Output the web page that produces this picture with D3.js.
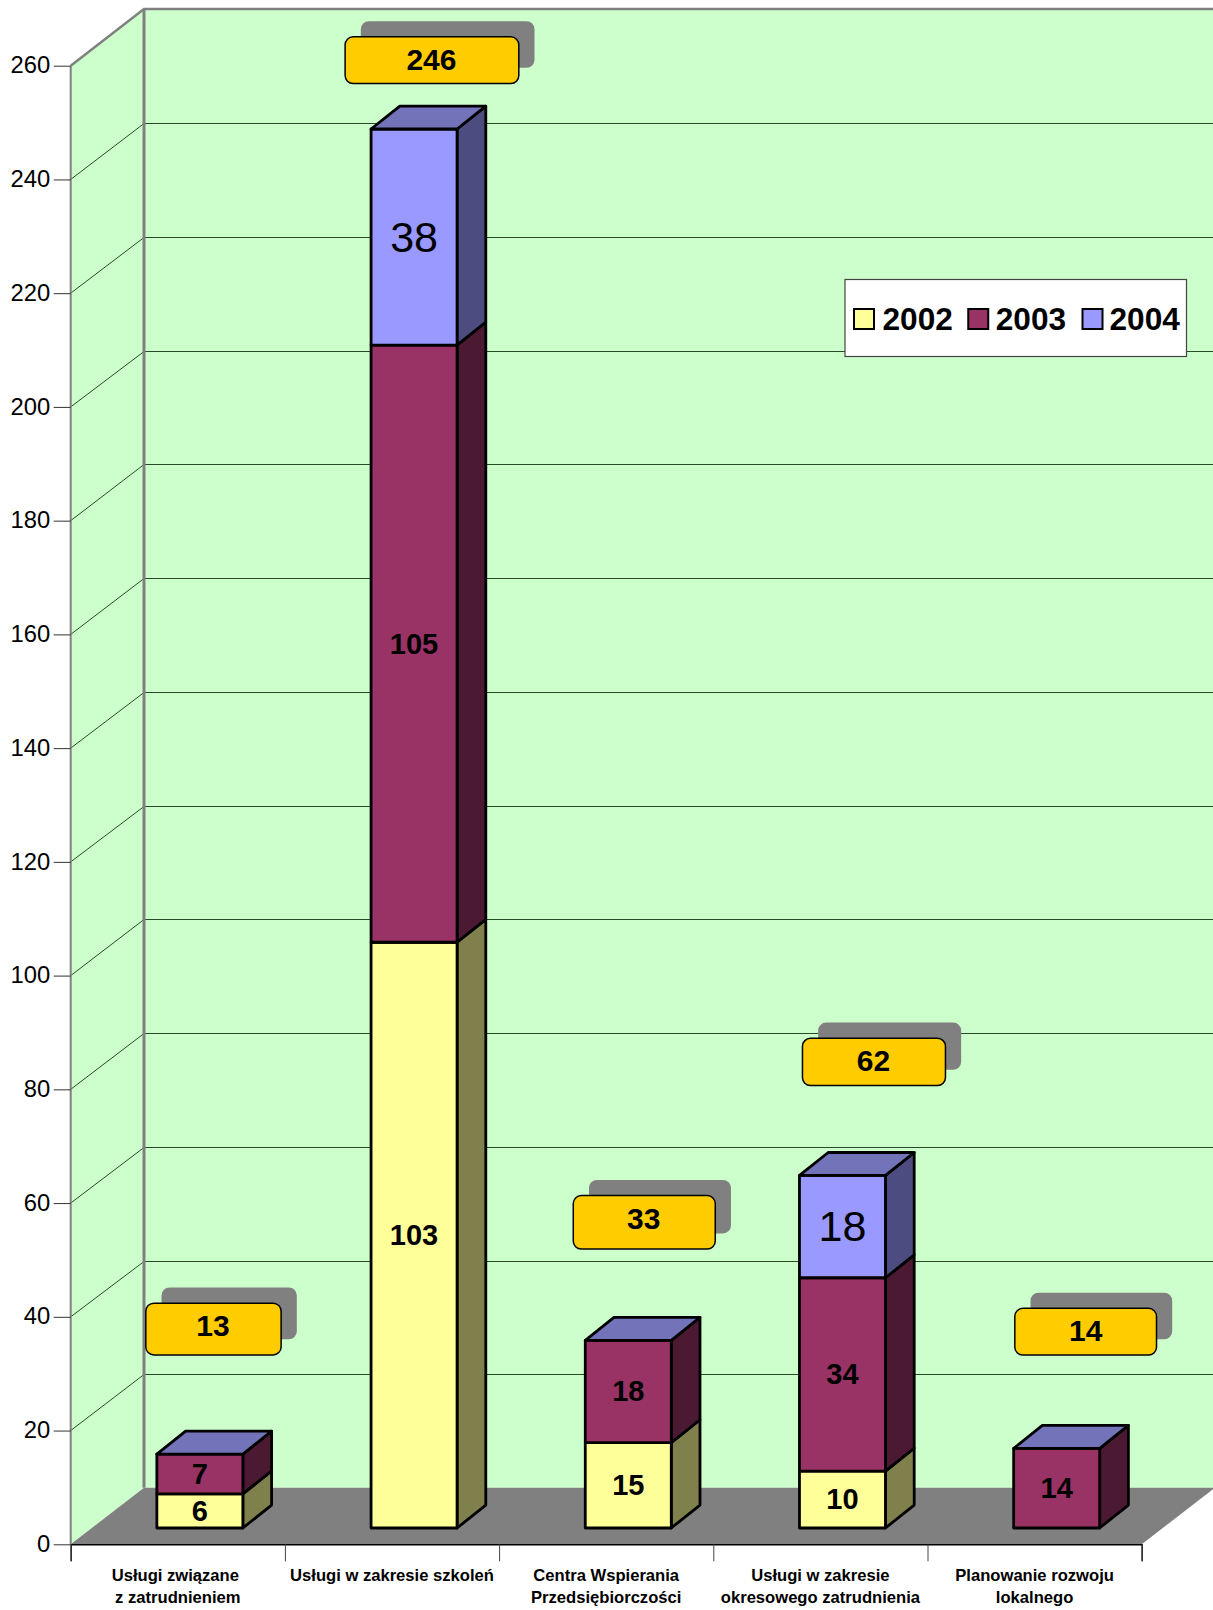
<!DOCTYPE html>
<html><head><meta charset="utf-8">
<script src="https://cdn.jsdelivr.net/npm/d3@7/dist/d3.min.js"></script>
<style>html,body{margin:0;padding:0;background:#fff}svg{display:block}text{font-family:"Liberation Sans",Arial,sans-serif;fill:#000}</style>
</head><body><svg id="c" width="1213" height="1610"></svg>
<script>
const categories = [["Usługi związane","z zatrudnieniem"],["Usługi w zakresie szkoleń"],["Centra Wspierania","Przedsiębiorczości"],["Usługi w zakresie","okresowego zatrudnienia"],["Planowanie rozwoju","lokalnego"]];
const years = ["2002","2003","2004"];
const v2002 = [6,103,15,10,0];
const v2003 = [7,105,18,34,14];
const v2004 = [0,38,0,18,0];
const totals = [13,246,33,62,14];
const yTicks = d3.range(0,261,20);

// layout
const X0=70.7,X1=1141.7,Y0=1544.3,Y260=65.7,DX=73.3,DY=56.6,RIGHT=1213;
const barFront=0.301, barBack=0.693;
const barWidth=86;
const calloutLayout=[{dx:13.6,dy:-125,w:135.3,h:51.7,t:-3.5,tx:-0.5},{dx:17.9,dy:-68.8,w:173.7,h:46.7,t:-1.5,tx:-0.5},{dx:16,dy:-118,w:142,h:53.5,t:-4.5,tx:-0.5},{dx:31.5,dy:-113.5,w:143,h:47.2,t:-2,tx:-0.5},{dx:29,dy:-116.7,w:141.7,h:46.7,t:-1,tx:0}];
const labelShift=[-2.5,0,0,0,0];
const legendTextGap=[28.5,27.5,27];
const C={wall:"#CCFFCC",floor:"#808080",grey:"#808080",call:"#FFCC00"};
const face=["#FFFF99","#993366","#9999FF"], side=["#80804C","#4C1933","#4C4C80"], topFace="#7373B9";

const svg=d3.select("#c");
const y=d3.scaleLinear().domain([0,260]).range([Y0,Y260]);
const x=d3.scaleBand().domain(d3.range(5)).range([X0,X1]);
const xEdge=d3.scaleLinear().domain([0,5]).range([X0,X1]);
const poly=p=>"M"+p.map(q=>q.join(",")).join("L")+"Z";

// walls and floor
svg.append("path").attr("d",poly([[X0,Y0],[X0+DX,Y0-DY],[X0+DX,Y260-DY],[X0,Y260]])).attr("fill",C.wall);
svg.append("rect").attr("x",X0+DX).attr("y",Y260-DY).attr("width",RIGHT-X0-DX).attr("height",Y0-Y260).attr("fill",C.wall);
svg.append("path").attr("d",poly([[X0,Y0],[X1,Y0],[X1+DX,Y0-DY],[X0+DX,Y0-DY]])).attr("fill",C.floor);

// gridlines
const grid=svg.append("g").attr("fill","none").attr("stroke-width",1);
yTicks.filter(v=>v>0&&v<260).forEach(v=>{
  const yy=Math.round(y(v)-DY+0.3)+0.5;
  grid.append("path").attr("d",`M${X0},${y(v)}L${X0+DX},${yy}L${RIGHT},${yy}`).attr("stroke","#2a4a2a");
});
// wall frame
svg.append("path").attr("d",`M${X0},${Y260}L${X0+DX},${Y260-DY}L${RIGHT},${Y260-DY}`).attr("fill","none").attr("stroke",C.grey).attr("stroke-width",2.5);
svg.append("line").attr("x1",X0+DX).attr("x2",X0+DX).attr("y1",Y260-DY).attr("y2",Y0-DY).attr("stroke",C.grey).attr("stroke-width",3);
svg.append("line").attr("x1",X0).attr("x2",X0).attr("y1",Y260).attr("y2",Y0).attr("stroke",C.grey).attr("stroke-width",2);

// axes
const ya=svg.append("g").attr("transform",`translate(${X0},0)`).call(d3.axisLeft(y).tickValues(yTicks).tickSize(17).tickPadding(3.5));
ya.select(".domain").remove();
ya.selectAll("line").attr("stroke","#333").attr("stroke-width",1);
ya.selectAll("text").style("font-size","23.8px").attr("font-family",null).attr("dy","0.3em");
const xa=svg.append("g").attr("transform",`translate(0,${Y0})`).call(d3.axisBottom(xEdge).ticks(5).tickSize(17).tickFormat(""));
xa.select(".domain").attr("stroke","#000").attr("stroke-width",1.5);
xa.selectAll("line").attr("stroke","#444").attr("stroke-width",1);

// category labels
categories.forEach((lines,i)=>{
  const cx=x(i)+x.bandwidth()/2;
  const t=svg.append("text").attr("text-anchor","middle").attr("font-weight","bold").style("font-size","16.6px");
  lines.forEach((l,j)=>t.append("tspan").attr("x",cx+(j===0?labelShift[i]:0)).attr("y",1581+j*21.7).text(l));
});

// stacked 3D bars
const rows=categories.map((c,i)=>({i,"2002":v2002[i],"2003":v2003[i],"2004":v2004[i]}));
const stacked=d3.stack().keys(years)(rows);
const bars=svg.append("g");
const bx=i=>x(i)+x.bandwidth()/2+barFront*DX-barWidth/2;
const by=v=>y(v)-0.288*DY;
const ddx=(barBack-barFront)*DX, ddy=(0.693-0.288)*DY;
rows.forEach((r,i)=>{
  const g=bars.append("g").attr("stroke","#000").attr("stroke-width",2.8).attr("stroke-linejoin","round");
  const L=bx(i),R=L+barWidth;
  let topV=0;
  stacked.forEach((s,k)=>{
    const [a,b]=s[i]; if(b<=a) return; topV=b;
    g.append("path").attr("d",poly([[R,by(a)],[R+ddx,by(a)-ddy],[R+ddx,by(b)-ddy],[R,by(b)]])).attr("fill",side[k]);
    g.append("rect").attr("x",L).attr("y",by(b)).attr("width",barWidth).attr("height",by(a)-by(b)).attr("fill",face[k]);
  });
  g.append("path").attr("d",poly([[L,by(topV)],[R,by(topV)],[R+ddx,by(topV)-ddy],[L+ddx,by(topV)-ddy]])).attr("fill",topFace);
  stacked.forEach((s,k)=>{
    const [a,b]=s[i]; if(b<=a) return;
    const big=k===2;
    svg.append("text").attr("x",L+barWidth/2).attr("y",(by(a)+by(b))/2-0.6).attr("dy","0.36em").attr("text-anchor","middle")
      .attr("font-weight",big?"normal":"bold").style("font-size",big?"43px":"29px").text(b-a);
  });
});

// callouts
totals.forEach((t,i)=>{
  const l=calloutLayout[i];
  const cx=x(i)+x.bandwidth()/2+barFront*DX+l.dx, cy=by(d3.sum(stacked,s=>s[i][1]-s[i][0]))+l.dy;
  svg.append("rect").attr("x",cx-l.w/2+15.7).attr("y",cy-l.h/2-15.7).attr("width",l.w).attr("height",l.h).attr("rx",8).attr("fill",C.grey);
  svg.append("rect").attr("x",cx-l.w/2).attr("y",cy-l.h/2).attr("width",l.w).attr("height",l.h).attr("rx",8).attr("fill",C.call).attr("stroke","#000").attr("stroke-width",1.5);
  svg.append("text").attr("x",cx+l.tx).attr("y",cy+l.t).attr("dy","0.36em").attr("text-anchor","middle").attr("font-weight","bold").style("font-size","30px").text(t);
});

// legend
const lg=svg.append("g");
lg.append("rect").attr("x",845).attr("y",279.5).attr("width",341.5).attr("height",77).attr("fill","#fff").attr("stroke","#444").attr("stroke-width",1.2);
const legX=d3.scalePoint().domain(years).range([854,1082.5]);
years.forEach((yr,k)=>{
  lg.append("rect").attr("x",legX(yr)).attr("y",309).attr("width",20).attr("height",20).attr("fill",face[k]).attr("stroke","#000").attr("stroke-width",2);
  lg.append("text").attr("x",legX(yr)+legendTextGap[k]).attr("y",330).attr("font-weight","bold").style("font-size","31.6px").text(yr);
});
</script></body></html>
